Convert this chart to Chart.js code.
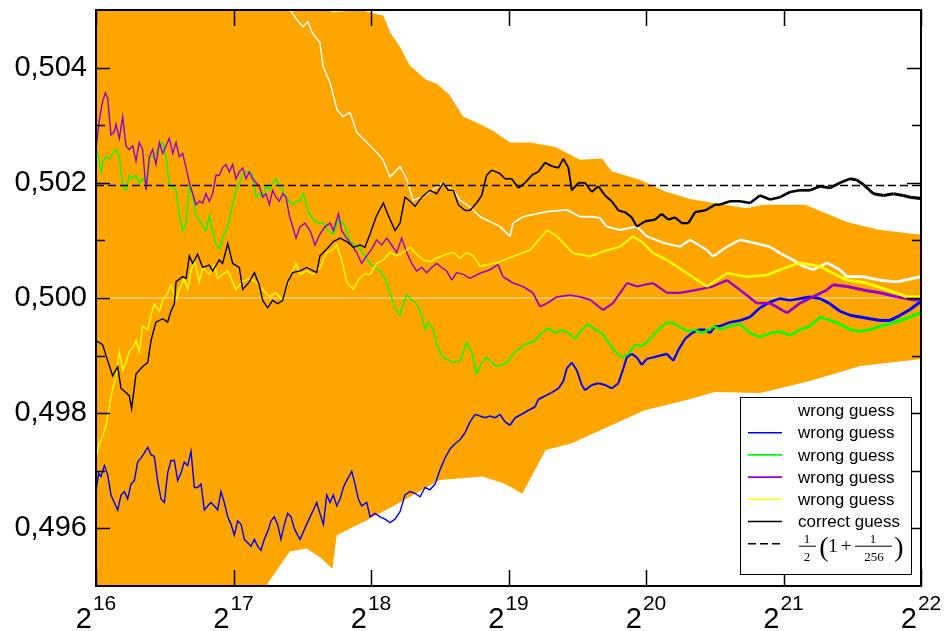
<!DOCTYPE html>
<html>
<head>
<meta charset="utf-8">
<script src="https://cdn.jsdelivr.net/npm/chart.js@4.4.0/dist/chart.umd.min.js"></script>
<style>
  html, body { margin: 0; padding: 0; background: #fff; }
</style>
</head>
<body>
<canvas id="guessChart" width="945" height="631"></canvas>
<script>
// x values are log2(n), y values are the measured fraction

const xTicks = [16, 17, 18, 19, 20, 21, 22];
const yMajor = [0.496, 0.498, 0.500, 0.502, 0.504];
const yMinor = [0.497, 0.499, 0.501, 0.503];
const refLevel = 0.5 * (1 + 1 / 256);

// orange band, upper and lower edge
const bandUpE = [16.0, 16.5, 17.0, 17.5, 17.72, 17.92, 18.09, 18.14, 18.21, 18.28, 18.4, 18.48, 18.57, 18.67, 18.79, 18.89, 19.01, 19.16, 19.34, 19.52, 19.68, 19.75, 19.96, 20.14, 20.32, 20.5, 20.73, 20.85, 21.16, 21.46, 21.7, 22.0];
const bandUpV = [0.5095, 0.5080, 0.5065, 0.5053, 0.50496, 0.50500, 0.50490, 0.50461, 0.50436, 0.50404, 0.50379, 0.50372, 0.50353, 0.50315, 0.50302, 0.50290, 0.50270, 0.50270, 0.50262, 0.50240, 0.50242, 0.50220, 0.50205, 0.50185, 0.50172, 0.50165, 0.50156, 0.50162, 0.50162, 0.50132, 0.50118, 0.50110];
const bandLoE = [16.0, 16.5, 17.0, 17.25, 17.41, 17.53, 17.63, 17.72, 17.75, 17.97, 18.21, 18.5, 18.81, 18.97, 19.1, 19.27, 19.46, 19.7, 19.99, 20.31, 20.5, 20.83, 21.19, 21.56, 22.0];
const bandLoV = [0.4890, 0.4910, 0.4930, 0.49505, 0.4956, 0.49565, 0.4955, 0.4953, 0.49588, 0.49614, 0.49645, 0.49684, 0.4969, 0.49678, 0.4966, 0.49736, 0.49748, 0.49774, 0.49805, 0.49824, 0.49837, 0.49835, 0.49856, 0.49882, 0.49894];

// wrong guess (white)
const whiteE = [17.38, 17.411, 17.462, 17.505, 17.542, 17.571, 17.629, 17.651, 17.702, 17.753, 17.796, 17.847, 17.898, 17.971, 18.044, 18.087, 18.138, 18.211, 18.262, 18.305, 18.378, 18.451, 18.524, 18.596, 18.647, 18.720,
  18.793, 18.938, 19.011, 19.033, 19.106, 19.280, 19.425, 19.520, 19.615, 19.665, 19.713, 19.811, 19.932, 20.005, 20.125, 20.247, 20.320, 20.444, 20.487, 20.589, 20.684, 20.780, 20.900, 20.975, 21.070, 21.145, 21.215, 21.316, 21.410, 21.460, 21.580, 21.700, 21.825, 21.993];
const whiteV = [0.50525, 0.50500, 0.50483, 0.50471, 0.50480, 0.50461, 0.50443, 0.50402, 0.50374, 0.50327, 0.50315, 0.50322, 0.50287, 0.50270, 0.50252, 0.50240, 0.50210, 0.50228, 0.50205, 0.50170, 0.50176, 0.50188, 0.50200, 0.50188, 0.50170, 0.50158,
  0.50141, 0.50124, 0.50107, 0.50130, 0.50141, 0.50150, 0.50153, 0.50141, 0.50141, 0.50139, 0.50124, 0.50118, 0.50124, 0.50107, 0.50096, 0.50089, 0.50101, 0.50083, 0.50072, 0.50089, 0.50101, 0.50096, 0.50089, 0.50078, 0.50066, 0.50055, 0.50049, 0.50061, 0.50049, 0.50037, 0.50037, 0.50031, 0.50028, 0.50037];

// wrong guess (blue)
const blueE = [16.000, 16.019, 16.036, 16.061, 16.085, 16.109, 16.133, 16.158, 16.182, 16.206, 16.230, 16.255, 16.279, 16.303, 16.327, 16.352, 16.376, 16.400, 16.424, 16.448, 16.473, 16.497, 16.521, 16.545, 16.570, 16.594, 16.618, 16.642, 16.667, 16.691, 16.715, 16.739, 16.764, 16.788, 16.812, 16.836, 16.861, 16.885, 16.909, 16.933, 16.958, 16.982, 17.006, 17.030, 17.055, 17.079, 17.103, 17.127, 17.152, 17.176, 17.200, 17.224, 17.248, 17.273, 17.297, 17.321, 17.345, 17.370, 17.394, 17.418, 17.442, 17.467,
  17.484, 17.508, 17.532, 17.557, 17.581, 17.605, 17.629, 17.654, 17.678, 17.702, 17.726, 17.751, 17.775, 17.799, 17.823, 17.860, 17.884, 17.908, 17.932, 17.969, 17.993, 18.029, 18.066, 18.102, 18.138, 18.175, 18.211, 18.247, 18.284, 18.320, 18.357, 18.393, 18.429, 18.466, 18.502, 18.538, 18.575, 18.611, 18.647, 18.684, 18.720, 18.757, 18.793, 18.829, 18.866, 18.902, 18.938, 18.975,
  19.011, 19.048, 19.096, 19.145, 19.193, 19.217, 19.266, 19.314, 19.363, 19.399, 19.424, 19.460, 19.496, 19.533, 19.557, 19.605, 19.654, 19.702, 19.751, 19.799, 19.836, 19.860, 19.896, 19.933, 19.969, 20.005, 20.054, 20.102, 20.151, 20.199, 20.236, 20.284, 20.333, 20.381, 20.430, 20.466, 20.502,
  20.538, 20.611, 20.684, 20.757, 20.829, 20.902, 20.975, 21.047, 21.120, 21.193, 21.266, 21.338, 21.411, 21.484, 21.557, 21.630, 21.702, 21.775, 21.848, 21.921, 21.993];
const blueV = [0.49664, 0.49696, 0.49690, 0.49709, 0.49693, 0.49658, 0.49645, 0.49632, 0.49658, 0.49664, 0.49651, 0.49677, 0.49683, 0.49715, 0.49722, 0.49731, 0.49741, 0.49728, 0.49725, 0.49683, 0.49651, 0.49645, 0.49696, 0.49718, 0.49718, 0.49683, 0.49696, 0.49715, 0.49709, 0.49734, 0.49671, 0.49671, 0.49677, 0.49632, 0.49639, 0.49645, 0.49639, 0.49632, 0.49664, 0.49645, 0.49620, 0.49607, 0.49588, 0.49613, 0.49607, 0.49581, 0.49575, 0.49569, 0.49581, 0.49569, 0.49562, 0.49581, 0.49594, 0.49613, 0.49620, 0.49607, 0.49581, 0.49607, 0.49626, 0.49620, 0.49600, 0.49588,
  0.49581, 0.49594, 0.49607, 0.49620, 0.49632, 0.49645, 0.49626, 0.49607, 0.49658, 0.49645, 0.49658, 0.49639, 0.49651, 0.49671, 0.49683, 0.49699, 0.49677, 0.49651, 0.49639, 0.49645, 0.49620, 0.49626, 0.49620, 0.49616, 0.49610, 0.49616, 0.49629, 0.49658, 0.49664, 0.49661, 0.49655, 0.49671, 0.49667, 0.49677, 0.49702, 0.49722, 0.49738, 0.49747, 0.49754, 0.49766, 0.49785, 0.49798, 0.49795, 0.49792, 0.49795, 0.49792, 0.49798, 0.49785,
  0.49779, 0.49792, 0.49798, 0.49805, 0.49811, 0.49824, 0.49830, 0.49836, 0.49843, 0.49856, 0.49878, 0.49888, 0.49875, 0.49849, 0.49840, 0.49849, 0.49852, 0.49849, 0.49843, 0.49852, 0.49878, 0.49897, 0.49903, 0.49897, 0.49884, 0.49894, 0.49897, 0.49900, 0.49903, 0.49891, 0.49910, 0.49929, 0.49939, 0.49945, 0.49945, 0.49939, 0.49951,
  0.49951, 0.49958, 0.49961, 0.49967, 0.49983, 0.49993, 0.49999, 0.49996, 0.49999, 0.50002, 0.49999, 0.49990, 0.49977, 0.49970, 0.49967, 0.49964, 0.49961, 0.49961, 0.49970, 0.49980, 0.49993];

// wrong guess (green)
const greenE = [16.000, 16.019, 16.036, 16.053, 16.073, 16.097, 16.121, 16.145, 16.170, 16.194, 16.218, 16.242, 16.267, 16.291, 16.315, 16.339, 16.364, 16.388, 16.412, 16.436, 16.461, 16.485, 16.509, 16.533, 16.558, 16.582, 16.606, 16.630, 16.655, 16.679, 16.703, 16.727, 16.752, 16.776, 16.800, 16.824, 16.848, 16.873, 16.897, 16.921, 16.945, 16.970, 16.994, 17.018, 17.042, 17.067, 17.091, 17.115, 17.139, 17.164, 17.188, 17.212, 17.236, 17.261, 17.285, 17.309, 17.333, 17.358, 17.382, 17.406, 17.430, 17.455,
  17.484, 17.508, 17.545, 17.581, 17.617, 17.654, 17.690, 17.726, 17.763, 17.799, 17.823, 17.848, 17.884, 17.920, 17.956, 17.993, 18.029, 18.066, 18.102, 18.138, 18.175, 18.211, 18.235, 18.260, 18.296, 18.332, 18.369, 18.393, 18.417, 18.454, 18.478, 18.514, 18.550, 18.599, 18.647, 18.696, 18.732, 18.768, 18.805, 18.841, 18.878, 18.914, 18.950, 18.987,
  19.048, 19.120, 19.193, 19.242, 19.290, 19.339, 19.387, 19.436, 19.484, 19.533, 19.581, 19.630, 19.678, 19.727, 19.775, 19.824, 19.872, 19.920, 19.969, 20.017, 20.066, 20.114, 20.163, 20.211, 20.260, 20.308, 20.357, 20.405, 20.454, 20.502,
  20.538, 20.611, 20.684, 20.757, 20.829, 20.902, 20.975, 21.047, 21.120, 21.193, 21.266, 21.338, 21.411, 21.484, 21.557, 21.630, 21.702, 21.775, 21.848, 21.921, 21.993];
const greenV = [0.50258, 0.50245, 0.50219, 0.50238, 0.50245, 0.50242, 0.50251, 0.50258, 0.50245, 0.50194, 0.50187, 0.50213, 0.50207, 0.50213, 0.50200, 0.50207, 0.50200, 0.50245, 0.50245, 0.50251, 0.50264, 0.50270, 0.50245, 0.50194, 0.50194, 0.50187, 0.50143, 0.50117, 0.50130, 0.50194, 0.50181, 0.50143, 0.50136, 0.50124, 0.50117, 0.50143, 0.50117, 0.50092, 0.50085, 0.50104, 0.50117, 0.50136, 0.50162, 0.50187, 0.50200, 0.50216, 0.50219, 0.50219, 0.50213, 0.50175, 0.50181, 0.50175, 0.50194, 0.50187, 0.50200, 0.50207, 0.50194, 0.50187, 0.50175, 0.50168, 0.50162, 0.50168,
  0.50168, 0.50181, 0.50149, 0.50136, 0.50130, 0.50130, 0.50117, 0.50111, 0.50136, 0.50130, 0.50117, 0.50098, 0.50092, 0.50085, 0.50073, 0.50060, 0.50053, 0.50047, 0.50034, 0.50009, 0.49983, 0.49970, 0.49990, 0.50006, 0.49996, 0.49990, 0.49970, 0.49945, 0.49958, 0.49945, 0.49919, 0.49900, 0.49894, 0.49888, 0.49891, 0.49923, 0.49907, 0.49868, 0.49888, 0.49897, 0.49888, 0.49881, 0.49884, 0.49888,
  0.49907, 0.49919, 0.49926, 0.49939, 0.49948, 0.49939, 0.49945, 0.49939, 0.49929, 0.49945, 0.49955, 0.49945, 0.49939, 0.49923, 0.49907, 0.49897, 0.49903, 0.49919, 0.49916, 0.49926, 0.49939, 0.49951, 0.49958, 0.49955, 0.49948, 0.49942, 0.49945, 0.49939, 0.49945, 0.49951,
  0.49945, 0.49951, 0.49955, 0.49939, 0.49932, 0.49939, 0.49942, 0.49935, 0.49945, 0.49951, 0.49967, 0.49961, 0.49955, 0.49945, 0.49942, 0.49945, 0.49951, 0.49955, 0.49961, 0.49967, 0.49974];

// wrong guess (purple)
const purpleE = [16.000, 16.024, 16.048, 16.068, 16.085, 16.109, 16.133, 16.145, 16.170, 16.194, 16.218, 16.242, 16.267, 16.291, 16.315, 16.339, 16.364, 16.388, 16.412, 16.436, 16.461, 16.485, 16.509, 16.533, 16.558, 16.582, 16.606, 16.630, 16.655, 16.679, 16.703, 16.727, 16.752, 16.776, 16.800, 16.824, 16.848, 16.873, 16.897, 16.921, 16.945, 16.970, 16.994, 17.018, 17.042, 17.067, 17.091, 17.115, 17.139, 17.164, 17.188, 17.212, 17.236, 17.261, 17.285, 17.309, 17.333, 17.358, 17.382, 17.406, 17.430, 17.455,
  17.484, 17.520, 17.557, 17.593, 17.629, 17.666, 17.702, 17.726, 17.763, 17.787, 17.823, 17.860, 17.896, 17.932, 17.969, 18.005, 18.041, 18.078, 18.114, 18.150, 18.187, 18.223, 18.260, 18.296, 18.332, 18.369, 18.405, 18.441, 18.478, 18.514, 18.550, 18.587, 18.623, 18.672, 18.720,
  18.793, 18.865, 18.924, 18.960, 19.033, 19.105, 19.178, 19.229, 19.280, 19.353, 19.447, 19.520, 19.593, 19.687, 19.760, 19.862, 19.935, 20.051, 20.153, 20.247, 20.371, 20.487, 20.589, 20.684, 20.807, 20.902, 21.025, 21.120, 21.215, 21.316, 21.360, 21.462, 21.578, 21.702, 21.825, 21.942, 21.993];
const purpleV = [0.50258, 0.50309, 0.50341, 0.50356, 0.50347, 0.50283, 0.50289, 0.50302, 0.50277, 0.50315, 0.50264, 0.50258, 0.50264, 0.50238, 0.50270, 0.50258, 0.50187, 0.50245, 0.50258, 0.50232, 0.50270, 0.50251, 0.50264, 0.50277, 0.50251, 0.50270, 0.50245, 0.50251, 0.50226, 0.50200, 0.50181, 0.50162, 0.50168, 0.50165, 0.50181, 0.50168, 0.50181, 0.50213, 0.50213, 0.50226, 0.50232, 0.50219, 0.50232, 0.50207, 0.50219, 0.50226, 0.50207, 0.50219, 0.50207, 0.50200, 0.50194, 0.50175, 0.50181, 0.50162, 0.50187, 0.50175, 0.50168, 0.50181, 0.50175, 0.50143, 0.50124, 0.50104,
  0.50124, 0.50130, 0.50117, 0.50092, 0.50111, 0.50124, 0.50130, 0.50117, 0.50146, 0.50117, 0.50104, 0.50092, 0.50079, 0.50060, 0.50073, 0.50085, 0.50101, 0.50092, 0.50104, 0.50092, 0.50079, 0.50104, 0.50079, 0.50060, 0.50047, 0.50053, 0.50044, 0.50053, 0.50060, 0.50053, 0.50047, 0.50031, 0.50044, 0.50041, 0.50034,
  0.50043, 0.50049, 0.50058, 0.50037, 0.50026, 0.50020, 0.50009, 0.49985, 0.49991, 0.50002, 0.50005, 0.50002, 0.49997, 0.49979, 0.49991, 0.50026, 0.50020, 0.50026, 0.50009, 0.50009, 0.50014, 0.50020, 0.50031, 0.50014, 0.49991, 0.49991, 0.49974, 0.49991, 0.50002, 0.50014, 0.50023, 0.50020, 0.50014, 0.50009, 0.50002, 0.49997, 0.49997];

// wrong guess (yellow)
const yellowE = [16.000, 16.024, 16.048, 16.073, 16.097, 16.121, 16.145, 16.170, 16.194, 16.218, 16.242, 16.267, 16.291, 16.315, 16.339, 16.376, 16.400, 16.424, 16.461, 16.485, 16.521, 16.545, 16.582, 16.606, 16.642, 16.667, 16.691, 16.715, 16.752, 16.776, 16.824, 16.861, 16.885, 16.921, 16.958, 16.994, 17.018, 17.067, 17.115, 17.164, 17.212, 17.261, 17.309, 17.358, 17.406, 17.455,
  17.484, 17.532, 17.581, 17.629, 17.678, 17.726, 17.751, 17.787, 17.823, 17.872, 17.908, 17.945, 17.993, 18.041, 18.090, 18.138, 18.187, 18.235, 18.284, 18.332, 18.381, 18.429, 18.478, 18.550, 18.599, 18.647, 18.696, 18.744,
  18.793, 18.916, 19.033, 19.156, 19.280, 19.353, 19.469, 19.593, 19.716, 19.811, 19.905, 19.978, 20.051, 20.153, 20.298, 20.444, 20.589, 20.735, 20.880, 20.975, 21.120, 21.265, 21.360, 21.462, 21.607, 21.753, 21.898, 21.993];
const yellowV = [0.49722, 0.49747, 0.49760, 0.49779, 0.49811, 0.49843, 0.49862, 0.49907, 0.49875, 0.49888, 0.49907, 0.49913, 0.49926, 0.49907, 0.49951, 0.49945, 0.49970, 0.49990, 0.49977, 0.49996, 0.50009, 0.50022, 0.49996, 0.50015, 0.50034, 0.50015, 0.50047, 0.50066, 0.50028, 0.50053, 0.50041, 0.50057, 0.50034, 0.50041, 0.50047, 0.50028, 0.50015, 0.50028, 0.50034, 0.50028, 0.50015, 0.50002, 0.50009, 0.49996, 0.50034, 0.50060,
  0.50041, 0.50047, 0.50041, 0.50053, 0.50079, 0.50085, 0.50092, 0.50066, 0.50028, 0.50015, 0.50031, 0.50041, 0.50041, 0.50060, 0.50066, 0.50079, 0.50073, 0.50079, 0.50088, 0.50076, 0.50066, 0.50063, 0.50069, 0.50076, 0.50079, 0.50069, 0.50079, 0.50073,
  0.50055, 0.50061, 0.50072, 0.50083, 0.50118, 0.50107, 0.50078, 0.50072, 0.50083, 0.50089, 0.50107, 0.50096, 0.50078, 0.50066, 0.50043, 0.50020, 0.50043, 0.50037, 0.50040, 0.50049, 0.50061, 0.50055, 0.50043, 0.50031, 0.50026, 0.50014, 0.50002, 0.50002];

// correct guess (black)
const blackE = [16.000, 16.048, 16.073, 16.121, 16.158, 16.182, 16.218, 16.242, 16.259, 16.291, 16.339, 16.376, 16.400, 16.436, 16.485, 16.521, 16.545, 16.570, 16.582, 16.630, 16.655, 16.679, 16.703, 16.739, 16.776, 16.824, 16.848, 16.897, 16.921, 16.958, 16.994, 17.042, 17.067, 17.115, 17.152, 17.188, 17.212, 17.248, 17.285, 17.321, 17.358, 17.394, 17.430,
  17.484, 17.532, 17.605, 17.629, 17.678, 17.726, 17.775, 17.823, 17.872, 17.920, 17.956, 17.993, 18.041, 18.090, 18.126, 18.175, 18.211, 18.247, 18.284, 18.320, 18.369, 18.429, 18.478, 18.526, 18.562, 18.599, 18.635, 18.684, 18.720, 18.768, 18.805, 18.841, 18.878, 18.938, 18.975,
  19.023, 19.072, 19.120, 19.169, 19.217, 19.266, 19.314, 19.363, 19.399, 19.436, 19.460, 19.508, 19.557, 19.605, 19.654, 19.702, 19.751, 19.799, 19.848, 19.896, 19.933, 19.993, 20.066, 20.114, 20.163, 20.211, 20.260, 20.308, 20.357, 20.430, 20.502,
  20.538, 20.611, 20.684, 20.757, 20.829, 20.902, 20.975, 21.047, 21.120, 21.193, 21.266, 21.338, 21.411, 21.484, 21.532, 21.581, 21.654, 21.727, 21.799, 21.872, 21.921, 21.993];
const blackV = [0.49926, 0.49919, 0.49900, 0.49865, 0.49881, 0.49843, 0.49836, 0.49830, 0.49808, 0.49868, 0.49881, 0.49888, 0.49926, 0.49958, 0.49964, 0.49958, 0.49977, 0.49990, 0.50028, 0.50037, 0.50034, 0.50073, 0.50060, 0.50076, 0.50053, 0.50057, 0.50047, 0.50066, 0.50060, 0.50095, 0.50060, 0.50053, 0.50015, 0.50028, 0.50044, 0.50022, 0.49996, 0.49983, 0.49996, 0.49990, 0.49996, 0.50028, 0.50044,
  0.50047, 0.50053, 0.50044, 0.50073, 0.50085, 0.50098, 0.50104, 0.50098, 0.50088, 0.50092, 0.50088, 0.50111, 0.50143, 0.50165, 0.50143, 0.50117, 0.50130, 0.50175, 0.50168, 0.50159, 0.50175, 0.50187, 0.50181, 0.50200, 0.50187, 0.50187, 0.50162, 0.50152, 0.50152, 0.50165, 0.50178, 0.50213, 0.50222, 0.50216, 0.50207,
  0.50207, 0.50191, 0.50200, 0.50213, 0.50219, 0.50235, 0.50229, 0.50226, 0.50242, 0.50226, 0.50187, 0.50200, 0.50200, 0.50184, 0.50194, 0.50178, 0.50168, 0.50152, 0.50149, 0.50140, 0.50124, 0.50133, 0.50136, 0.50146, 0.50136, 0.50140, 0.50130, 0.50130, 0.50149, 0.50152, 0.50162,
  0.50162, 0.50168, 0.50168, 0.50165, 0.50178, 0.50171, 0.50175, 0.50184, 0.50187, 0.50187, 0.50194, 0.50191, 0.50200, 0.50207, 0.50205, 0.50197, 0.50181, 0.50178, 0.50181, 0.50178, 0.50175, 0.50173];

function pts(e, v) {
  return e.map((x, i) => ({ x: x, y: v[i] }));
}

// the traces look thicker further right, where the noise gets denser
function series(label, e, v, color, order) {
  return {
    label: label,
    data: pts(e, v),
    borderColor: color,
    borderWidth: 1.6,
    pointRadius: 0,
    fill: false,
    order: order,
    showInLegend: true,
    segment: {
      borderWidth: ctx => 1.4 + Math.max(0, ctx.p0.parsed.x - 18.5) * 0.5
    }
  };
}

// frame and inward ticks, drawn over the data
const framePlugin = {
  id: 'frame',
  afterDatasetsDraw(chart) {
    const ctx = chart.ctx;
    const a = chart.chartArea;
    const xs = chart.scales.x;
    const ys = chart.scales.y;
    ctx.save();
    ctx.strokeStyle = '#000';
    ctx.lineWidth = 1.5;
    ctx.beginPath();
    xTicks.forEach(t => {
      const px = Math.round(xs.getPixelForValue(t)) + 0.5;
      ctx.moveTo(px, a.bottom); ctx.lineTo(px, a.bottom - 16);
      ctx.moveTo(px, a.top); ctx.lineTo(px, a.top + 16);
    });
    yMajor.forEach(t => {
      const py = Math.round(ys.getPixelForValue(t)) + 0.5;
      ctx.moveTo(a.left, py); ctx.lineTo(a.left + 14, py);
      ctx.moveTo(a.right, py); ctx.lineTo(a.right - 14, py);
    });
    yMinor.forEach(t => {
      const py = Math.round(ys.getPixelForValue(t)) + 0.5;
      ctx.moveTo(a.left, py); ctx.lineTo(a.left + 9, py);
      ctx.moveTo(a.right, py); ctx.lineTo(a.right - 9, py);
    });
    ctx.stroke();
    ctx.lineWidth = 2;
    ctx.strokeRect(a.left, a.top, a.right - a.left, a.bottom - a.top);

    // x labels as 2 with a raised exponent
    ctx.fillStyle = '#000';
    ctx.textBaseline = 'alphabetic';
    xTicks.forEach(t => {
      const px = xs.getPixelForValue(t);
      const exp = String(t);
      ctx.font = '29px "Liberation Sans", Arial, sans-serif';
      const wb = ctx.measureText('2').width;
      ctx.font = '21px "Liberation Sans", Arial, sans-serif';
      const we = ctx.measureText(exp).width;
      const x0 = px - (wb + 1 + we) / 2;
      ctx.font = '29px "Liberation Sans", Arial, sans-serif';
      ctx.textAlign = 'left';
      ctx.fillText('2', x0, a.bottom + 42);
      ctx.font = '21px "Liberation Sans", Arial, sans-serif';
      ctx.fillText(exp, x0 + wb + 1, a.bottom + 24);
    });
    ctx.restore();
  }
};

// boxed legend in the lower right corner
const legendPlugin = {
  id: 'boxLegend',
  afterDraw(chart) {
    const ctx = chart.ctx;
    const a = chart.chartArea;
    const bx = a.right - 181, by = a.bottom - 189, bw = 171, bh = 177;
    ctx.save();
    ctx.fillStyle = '#fff';
    ctx.fillRect(bx, by, bw, bh);
    ctx.strokeStyle = '#000';
    ctx.lineWidth = 1;
    ctx.strokeRect(bx + 0.5, by + 0.5, bw, bh);

    const items = chart.data.datasets.filter(d => d.showInLegend);
    ctx.font = '17px "Liberation Sans", Arial, sans-serif';
    ctx.textBaseline = 'middle';
    ctx.textAlign = 'left';
    items.forEach((d, i) => {
      const y = by + 13.5 + i * 22.2;
      ctx.strokeStyle = d.borderColor;
      ctx.lineWidth = 1.6;
      ctx.setLineDash(d.borderDash || []);
      ctx.beginPath();
      ctx.moveTo(bx + 8, y); ctx.lineTo(bx + 42, y);
      ctx.stroke();
      ctx.setLineDash([]);
      if (d.formula) return;
      ctx.fillStyle = '#000';
      ctx.fillText(d.label, bx + 58, y + 1);
    });

    // 1/2 (1 + 1/256)
    const fy = by + 13.5 + (items.length - 1) * 22.2 + 2;
    const serif = '"Liberation Serif", "Times New Roman", serif';
    ctx.fillStyle = '#000';
    ctx.strokeStyle = '#000';
    ctx.lineWidth = 1;
    ctx.textAlign = 'center';
    ctx.textBaseline = 'alphabetic';
    ctx.font = '13px ' + serif;
    ctx.fillText('1', bx + 67, fy - 3);
    ctx.fillText('2', bx + 67, fy + 15);
    ctx.beginPath();
    ctx.moveTo(bx + 59, fy + 0.5); ctx.lineTo(bx + 76, fy + 0.5);
    ctx.moveTo(bx + 115, fy + 0.5); ctx.lineTo(bx + 152, fy + 0.5);
    ctx.stroke();
    ctx.fillText('1', bx + 133, fy - 3);
    ctx.fillText('256', bx + 134, fy + 15);
    ctx.font = '28px ' + serif;
    ctx.fillText('(', bx + 84, fy + 10);
    ctx.fillText(')', bx + 159, fy + 10);
    ctx.font = '19px ' + serif;
    ctx.fillText('1', bx + 93, fy + 6);
    ctx.fillText('+', bx + 106, fy + 6);
    ctx.restore();
  }
};

const datasets = [
  { label: 'bandUp', data: pts(bandUpE, bandUpV), borderWidth: 0, borderColor: 'rgba(0,0,0,0)', pointRadius: 0, fill: false, order: 20 },
  { label: 'bandLo', data: pts(bandLoE, bandLoV), borderWidth: 0, borderColor: 'rgba(0,0,0,0)', pointRadius: 0, backgroundColor: '#ffa500', fill: '-1', order: 19 },
  { label: 'half', data: [{ x: 16, y: 0.5 }, { x: 22, y: 0.5 }], borderColor: 'rgba(255,235,200,0.95)', borderWidth: 1, pointRadius: 0, fill: false, order: 15 },
  series('wrong guess', whiteE, whiteV, '#ffffff', 9),
  series('wrong guess', blueE, blueV, '#0000ff', 8),
  series('wrong guess', greenE, greenV, '#00ff00', 7),
  series('wrong guess', purpleE, purpleV, '#9400d3', 6),
  series('wrong guess', yellowE, yellowV, '#ffff00', 5),
  series('correct guess', blackE, blackV, '#000000', 4),
  {
    label: 'reference', data: [{ x: 16, y: refLevel }, { x: 22, y: refLevel }],
    borderColor: '#000', borderWidth: 1.4, borderDash: [8, 4], pointRadius: 0, fill: false, order: 3,
    showInLegend: true, formula: true
  }
];

function noPad(s) {
  s.paddingTop = 0; s.paddingBottom = 0; s.paddingLeft = 0; s.paddingRight = 0;
}

new Chart(document.getElementById('guessChart'), {
  type: 'line',
  data: { datasets: datasets },
  options: {
    responsive: false,
    animation: false,
    layout: { padding: { top: 10, right: 24, left: 0, bottom: 0 } },
    plugins: {
      legend: { display: false },
      tooltip: { enabled: false }
    },
    scales: {
      x: {
        type: 'linear',
        min: 16,
        max: 22,
        ticks: { display: false, stepSize: 1 },
        grid: { display: false, drawTicks: false },
        border: { display: false },
        afterFit: s => { s.height = 45; noPad(s); }
      },
      y: {
        min: 0.495,
        max: 0.505,
        ticks: {
          stepSize: 0.001,
          padding: 9,
          color: '#000',
          font: { family: '"Liberation Sans", Arial, sans-serif', size: 29 },
          callback: v => {
            const k = Math.round(v * 1000);
            return k % 2 === 0 ? (k / 1000).toFixed(3).replace('.', ',') : '';
          }
        },
        grid: { display: false, drawTicks: false },
        border: { display: false },
        afterFit: s => { s.width = 96; noPad(s); }
      }
    }
  },
  plugins: [framePlugin, legendPlugin]
});
</script>
</body>
</html>
